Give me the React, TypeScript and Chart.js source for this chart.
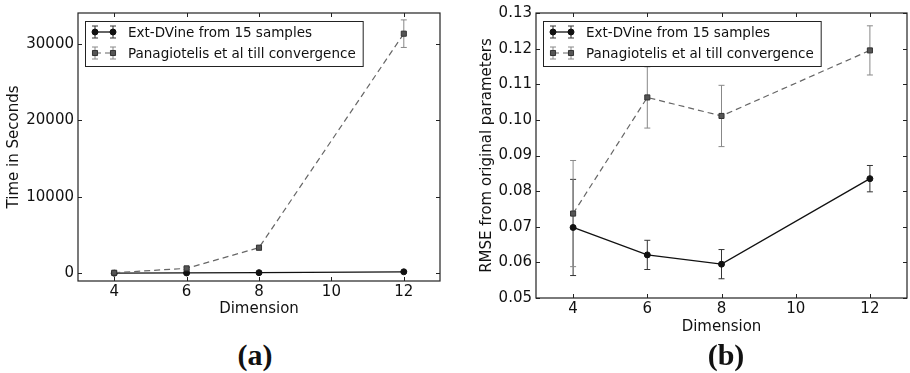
import React, { useEffect, useRef } from "react";
import { Chart, registerables } from "chart.js";

Chart.register(...registerables);

// ---------- data ----------
const dimensions = [4, 6, 8, 12];
const xTicks = [4, 6, 8, 10, 12];
const seriesLabels = ["Ext-DVine from 15 samples", "Panagiotelis et al till convergence"];

// (a) time in seconds
const timeExt = [20, 50, 90, 200];
const timeExtErr = [10, 20, 30, 40];
const timePan = [80, 650, 3350, 31300];
const timePanErr = [30, 150, 300, 1800];
const timeTicks = [0, 10000, 20000, 30000];

// (b) RMSE
const rmseExt = [0.0698, 0.0621, 0.0595, 0.0835];
const rmseExtErr = [0.0135, 0.0041, 0.0041, 0.0037];
const rmsePan = [0.0737, 0.1063, 0.1011, 0.1195];
const rmsePanErr = [0.0149, 0.0086, 0.0086, 0.0069];
const rmseTicks = [0.05, 0.06, 0.07, 0.08, 0.09, 0.1, 0.11, 0.12, 0.13];

const captions = ["(a)", "(b)"];

// ---------- styling ----------
const FONT = '"DejaVu Sans", sans-serif';
const TEXT = "#111";

function makeDatasets(ext: number[], extErr: number[], pan: number[], panErr: number[]) {
  return [
    {
      label: seriesLabels[0],
      data: dimensions.map((x, i) => ({ x, y: ext[i] })),
      errors: extErr,
      errorColor: "#333",
      borderColor: "#111",
      backgroundColor: "#111",
      borderWidth: 1.3,
      pointStyle: "circle",
      pointRadius: 3,
      pointBackgroundColor: "#111",
      pointBorderColor: "#111",
      pointBorderWidth: 1,
      order: 1,
    },
    {
      label: seriesLabels[1],
      data: dimensions.map((x, i) => ({ x, y: pan[i] })),
      errors: panErr,
      errorColor: "#888",
      borderColor: "#666",
      backgroundColor: "#555",
      borderWidth: 1.2,
      borderDash: [6, 4],
      pointStyle: "rect",
      pointRadius: 3.6,
      pointBackgroundColor: "#555",
      pointBorderColor: "#333",
      pointBorderWidth: 1,
      order: 0,
    },
  ];
}

const decorPlugin = {
  id: "decor",
  beforeDatasetsDraw(chart: any) {
    const ctx = chart.ctx;
    const xs = chart.scales.x;
    const ys = chart.scales.y;
    ctx.save();
    chart.data.datasets.forEach((ds: any) => {
      ctx.strokeStyle = ds.errorColor;
      ctx.lineWidth = 1;
      ctx.setLineDash([]);
      ds.data.forEach((p: any, j: number) => {
        const e = ds.errors[j];
        const x = xs.getPixelForValue(p.x);
        const y1 = ys.getPixelForValue(p.y + e);
        const y2 = ys.getPixelForValue(p.y - e);
        ctx.beginPath();
        ctx.moveTo(x, y1);
        ctx.lineTo(x, y2);
        ctx.moveTo(x - 3, y1);
        ctx.lineTo(x + 3, y1);
        ctx.moveTo(x - 3, y2);
        ctx.lineTo(x + 3, y2);
        ctx.stroke();
      });
    });
    ctx.restore();
  },
  afterDatasetsDraw(chart: any) {
    const ctx = chart.ctx;
    const { left, right, top, bottom } = chart.chartArea;
    const xs = chart.scales.x;
    const ys = chart.scales.y;
    ctx.save();
    ctx.setLineDash([]);
    // inward ticks on all four sides
    ctx.strokeStyle = "#222";
    ctx.lineWidth = 1;
    ctx.beginPath();
    xs.ticks.forEach((t: any) => {
      const x = Math.round(xs.getPixelForValue(t.value)) + 0.5;
      ctx.moveTo(x, bottom);
      ctx.lineTo(x, bottom - 4);
      ctx.moveTo(x, top);
      ctx.lineTo(x, top + 4);
    });
    ys.ticks.forEach((t: any) => {
      const y = Math.round(ys.getPixelForValue(t.value)) + 0.5;
      ctx.moveTo(left, y);
      ctx.lineTo(left + 4, y);
      ctx.moveTo(right, y);
      ctx.lineTo(right - 4, y);
    });
    ctx.stroke();
    // frame
    ctx.strokeStyle = "#222";
    ctx.lineWidth = 1.2;
    ctx.strokeRect(left, top, right - left, bottom - top);

    // legend
    ctx.font = `13.5px ${FONT}`;
    const tw = Math.max(...chart.data.datasets.map((d: any) => ctx.measureText(d.label).width));
    const bx = left + 7;
    const by = top + 8;
    const bw = 43 + tw + 7;
    const bh = 45;
    ctx.fillStyle = "#fff";
    ctx.fillRect(bx, by, bw, bh);
    ctx.strokeStyle = "#222";
    ctx.lineWidth = 1;
    ctx.strokeRect(bx + 0.5, by + 0.5, bw, bh);
    chart.data.datasets.forEach((ds: any, i: number) => {
      const cy = by + 11 + i * 21;
      const x1 = bx + 10;
      const x2 = bx + 28;
      ctx.strokeStyle = ds.borderColor;
      ctx.lineWidth = ds.borderWidth;
      ctx.setLineDash(ds.borderDash || []);
      ctx.beginPath();
      ctx.moveTo(x1, cy);
      ctx.lineTo(x2, cy);
      ctx.stroke();
      ctx.setLineDash([]);
      ctx.strokeStyle = ds.errorColor;
      ctx.lineWidth = 1;
      [x1, x2].forEach((px) => {
        ctx.beginPath();
        ctx.moveTo(px, cy - 6);
        ctx.lineTo(px, cy + 6);
        ctx.moveTo(px - 3, cy - 6);
        ctx.lineTo(px + 3, cy - 6);
        ctx.moveTo(px - 3, cy + 6);
        ctx.lineTo(px + 3, cy + 6);
        ctx.stroke();
      });
      ctx.fillStyle = ds.pointBackgroundColor;
      ctx.strokeStyle = ds.pointBorderColor;
      ctx.lineWidth = 1;
      [x1, x2].forEach((px) => {
        ctx.beginPath();
        if (ds.pointStyle === "rect") {
          const s = ds.pointRadius * Math.SQRT1_2;
          ctx.rect(px - s, cy - s, 2 * s, 2 * s);
        } else {
          ctx.arc(px, cy, ds.pointRadius, 0, Math.PI * 2);
        }
        ctx.fill();
        ctx.stroke();
      });
      ctx.fillStyle = TEXT;
      ctx.textAlign = "left";
      ctx.textBaseline = "middle";
      ctx.fillText(ds.label, bx + 43, cy + 1);
    });
    ctx.restore();
  },
};

type PanelProps = {
  left: number;
  width: number;
  height: number;
  datasets: any[];
  yMin: number;
  yMax: number;
  yTicks: number[];
  yFmt: (v: number) => string;
  yTitle: string;
  yAxisWidth: number;
  xAxisHeight: number;
  padRight: number;
  yTitlePad: number;
  xTitlePad: number;
};

function Panel(p: PanelProps) {
  const ref = useRef<HTMLCanvasElement | null>(null);
  useEffect(() => {
    if (!ref.current) return;
    const font = { family: FONT, size: 15 };
    const chart = new Chart(ref.current, {
      type: "line",
      data: { datasets: p.datasets as any },
      plugins: [decorPlugin],
      options: {
        animation: false,
        responsive: false,
        maintainAspectRatio: false,
        layout: { padding: { left: 0, right: p.padRight, top: 8, bottom: 0 } },
        plugins: { legend: { display: false }, tooltip: { enabled: false } },
        scales: {
          x: {
            type: "linear",
            min: 3,
            max: 13,
            afterBuildTicks: (s: any) => {
              s.ticks = xTicks.map((v) => ({ value: v }));
            },
            afterFit: (s: any) => {
              s.height = p.xAxisHeight;
            },
            grid: { display: false, drawTicks: false },
            border: { display: false },
            ticks: {
              padding: 2,
              font,
              color: TEXT,
              autoSkip: false,
              maxRotation: 0,
              callback: (v: any) => String(v),
            },
            title: {
              display: true,
              text: "Dimension",
              font,
              color: TEXT,
              padding: { top: 0, bottom: p.xTitlePad },
            },
          },
          y: {
            type: "linear",
            min: p.yMin,
            max: p.yMax,
            afterBuildTicks: (s: any) => {
              s.ticks = p.yTicks.map((v) => ({ value: v }));
            },
            afterFit: (s: any) => {
              s.width = p.yAxisWidth;
            },
            grid: { display: false, drawTicks: false },
            border: { display: false },
            ticks: {
              padding: 4,
              font,
              color: TEXT,
              autoSkip: false,
              callback: (v: any) => p.yFmt(Number(v)),
            },
            title: {
              display: true,
              text: p.yTitle,
              font,
              color: TEXT,
              padding: { top: p.yTitlePad, bottom: 0 },
            },
          },
        },
      } as any,
    });
    return () => chart.destroy();
  }, []);
  return (
    <canvas
      ref={ref}
      width={p.width}
      height={p.height}
      style={{ position: "absolute", left: p.left, top: 0, width: p.width, height: p.height, display: "block" }}
    />
  );
}

export default function App() {
  const captionStyle = (cx: number): React.CSSProperties => ({
    position: "absolute",
    left: cx - 50,
    top: 340,
    width: 100,
    textAlign: "center",
    fontFamily: '"Liberation Serif", "Times New Roman", serif',
    fontWeight: "bold",
    fontSize: 30,
    lineHeight: "30px",
    color: "#111",
  });
  return (
    <div
      style={{
        position: "absolute",
        left: 0,
        top: 0,
        width: 910,
        height: 373,
        overflow: "hidden",
        background: "#fff",
      }}
    >
      <Panel
        left={0}
        width={455}
        height={330}
        datasets={makeDatasets(timeExt, timeExtErr, timePan, timePanErr)}
        yMin={-1000}
        yMax={34000}
        yTicks={timeTicks}
        yFmt={(v) => String(v)}
        yTitle="Time in Seconds"
        yAxisWidth={78}
        xAxisHeight={49}
        padRight={15}
        yTitlePad={5}
        xTitlePad={12}
      />
      <Panel
        left={455}
        width={457}
        height={340}
        datasets={makeDatasets(rmseExt, rmseExtErr, rmsePan, rmsePanErr)}
        yMin={0.05}
        yMax={0.13}
        yTicks={rmseTicks}
        yFmt={(v) => v.toFixed(2)}
        yTitle="RMSE from original parameters"
        yAxisWidth={81}
        xAxisHeight={42}
        padRight={1}
        yTitlePad={23}
        xTitlePad={4}
      />
      <div style={captionStyle(255)}>{captions[0]}</div>
      <div style={captionStyle(726)}>{captions[1]}</div>
    </div>
  );
}
